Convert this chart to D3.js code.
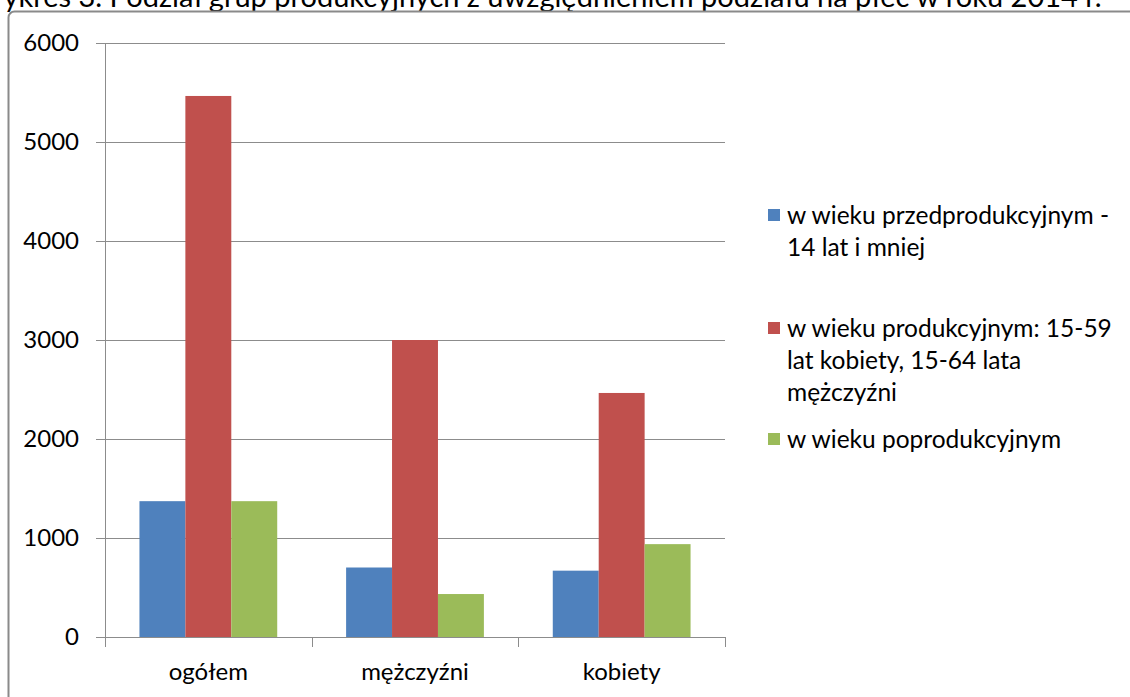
<!DOCTYPE html>
<html>
<head>
<meta charset="utf-8">
<script src="https://cdn.jsdelivr.net/npm/d3@7"></script>
<style>
  body { margin: 0; background: #fff; overflow: hidden; }
  svg { display: block; font-family: Lato, "Noto Sans", sans-serif; }
</style>
</head>
<body>
<svg id="chart" width="1130" height="697"></svg>
<script>
// dane wykresu
const categories = ["ogółem", "mężczyźni", "kobiety"];
const seriesNames = [
  ["w wieku przedprodukcyjnym -", "14 lat i mniej"],
  ["w wieku produkcyjnym: 15-59", "lat kobiety, 15-64 lata", "mężczyźni"],
  ["w wieku poprodukcyjnym"]
];
const preProd = [1372, 702, 670];
const prod = [5465, 3000, 2465];
const postProd = [1372, 434, 938];
const yTicks = [0, 1000, 2000, 3000, 4000, 5000, 6000];
const colors = ["#4F81BD", "#C0504D", "#9BBB59"];

const series = [preProd, prod, postProd];
const svg = d3.select("#chart");

// tytuł (ucięty u góry jak w oryginale)
svg.append("text")
  .attr("x", -26)
  .attr("y", 7)
  .style("font-size", "29px")
  .attr("fill", "#000")
  .text("Wykres 3. Podział grup produkcyjnych z uwzględnieniem podziału na płeć w roku 2014 r.");

// ramka wykresu
svg.append("rect")
  .attr("x", 8.5)
  .attr("y", 11.5)
  .attr("width", 1200)
  .attr("height", 800)
  .attr("rx", 6)
  .attr("fill", "#fff")
  .attr("stroke", "#8a8a8a")
  .attr("stroke-width", 2);

const plot = { left: 105, right: 725, top: 43, bottom: 637 };

const y = d3.scaleLinear().domain([0, 6000]).range([plot.bottom, plot.top]);
const x0 = d3.scaleBand().domain(categories).range([plot.left, plot.right]);
const x1 = d3.scaleBand().domain(d3.range(series.length))
  .range([0, x0.bandwidth()]).paddingOuter(0.75).paddingInner(0);

// linie siatki
svg.append("g")
  .selectAll("line")
  .data(yTicks.filter(d => d > 0))
  .join("line")
  .attr("x1", plot.left - 9)
  .attr("x2", plot.right)
  .attr("y1", d => Math.round(y(d)) + 0.5)
  .attr("y2", d => Math.round(y(d)) + 0.5)
  .attr("stroke", "#8c8c8c")
  .attr("stroke-width", 1);

// słupki
categories.forEach((cat, ci) => {
  series.forEach((vals, si) => {
    svg.append("rect")
      .attr("x", x0(cat) + x1(si))
      .attr("y", y(vals[ci]))
      .attr("width", x1.bandwidth())
      .attr("height", y(0) - y(vals[ci]))
      .attr("fill", colors[si]);
  });
});

// oś Y
svg.append("line")
  .attr("x1", plot.left + 0.5).attr("x2", plot.left + 0.5)
  .attr("y1", plot.top).attr("y2", plot.bottom + 10)
  .attr("stroke", "#8c8c8c");
svg.append("line")
  .attr("x1", plot.left - 9).attr("x2", plot.right)
  .attr("y1", Math.round(y(0)) + 0.5).attr("y2", Math.round(y(0)) + 0.5)
  .attr("stroke", "#8c8c8c");

svg.append("g")
  .selectAll("text")
  .data(yTicks)
  .join("text")
  .attr("x", 79)
  .attr("y", d => y(d))
  .attr("dy", "0.35em")
  .attr("text-anchor", "end")
  .style("font-size", "24px")
  .attr("fill", "#000")
  .text(d => d);

// oś X - kreski na granicach kategorii
const bounds = categories.map(c => x0(c) + x0.bandwidth()).slice(0, -1).concat([plot.right]);
svg.append("g")
  .selectAll("line")
  .data(bounds)
  .join("line")
  .attr("x1", d => Math.round(d) + 0.5).attr("x2", d => Math.round(d) + 0.5)
  .attr("y1", plot.bottom).attr("y2", plot.bottom + 10)
  .attr("stroke", "#8c8c8c");

svg.append("g")
  .selectAll("text")
  .data(categories)
  .join("text")
  .attr("x", d => x0(d) + x0.bandwidth() / 2)
  .attr("y", 672)
  .attr("dy", "0.35em")
  .attr("text-anchor", "middle")
  .style("font-size", "24px")
  .attr("fill", "#000")
  .text(d => d);

// legenda
const legendTop = [215, 328, 439];
const lineH = 32;
seriesNames.forEach((lines, i) => {
  const g = svg.append("g").attr("transform", `translate(768,${legendTop[i]})`);
  g.append("rect")
    .attr("x", 0).attr("y", -6)
    .attr("width", 12).attr("height", 12)
    .attr("fill", colors[i]);
  lines.forEach((t, li) => {
    g.append("text")
      .attr("x", 19)
      .attr("y", li * lineH)
      .attr("dy", "0.35em")
      .style("font-size", "24.5px")
      .attr("fill", "#000")
      .text(t);
  });
});
</script>
</body>
</html>
